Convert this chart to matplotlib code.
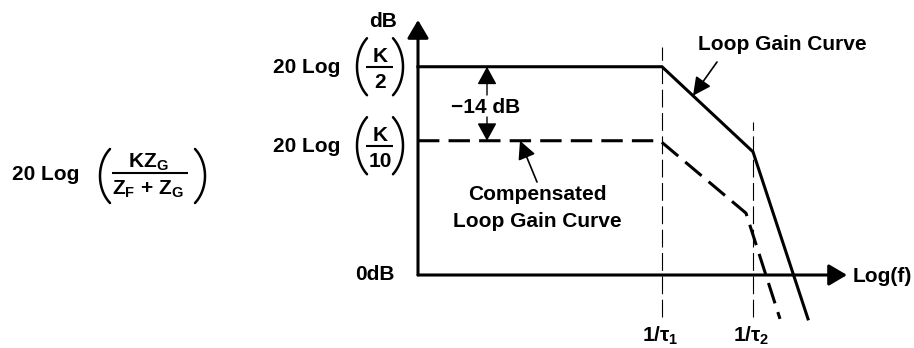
import numpy as np
import matplotlib.pyplot as plt

plt.rcParams['font.family'] = ['Liberation Sans', 'DejaVu Sans']
plt.rcParams['font.weight'] = 'bold'
plt.rcParams['font.size'] = 15
plt.rcParams['mathtext.default'] = 'regular'

# x = log frequency (decades from the origin), y = gain in dB
loop_logf = [0.0, 2.44, 3.35, 3.90]
loop_db = [39.4, 39.4, 23.3, -8.3]
comp_logf = [0.0, 2.42, 3.28, 3.62]
comp_db = [25.4, 25.4, 11.7, -8.3]
corner_logf = [2.44, 3.35]
corner_top_db = [43.1, 28.9]
corner_labels = ['1/τ$_1$', '1/τ$_2$']
level_db = [39.4, 25.4]
level_den = ['2', '10']

# pixel layout helpers (origin of the diagram at px 418, 275)
SX, SY = 100.0, 5.286


def P(px, py):
    return (px - 418) / SX, (275 - py) / SY


def paren(ax, outer_px, cy_px, hh_px, side, bulge=10):
    # big round bracket drawn as an elliptic arc
    span = np.radians(50)
    b = hh_px / np.sin(span)
    a = bulge / (1 - np.cos(span))
    t = np.linspace(-span, span, 40)
    if side == 'left':
        px = outer_px + a - a * np.cos(t)
    else:
        px = outer_px - a + a * np.cos(t)
    py = cy_px + b * np.sin(t)
    x, y = P(px, py)
    ax.plot(x, y, color='k', lw=1.8, solid_capstyle='round')


def frac_bar(ax, x0, x1, y):
    (a, b), (c, d) = P(x0, y), P(x1, y)
    ax.plot([a, c], [b, d], color='k', lw=1.5, solid_capstyle='butt')


def arrow(ax, tip, tail, lw=1.2, hw=0.55, hl=1.1):
    ax.annotate('', xy=tip, xytext=tail,
                arrowprops=dict(arrowstyle=f'-|>,head_width={hw},head_length={hl}',
                                lw=lw, color='k', mutation_scale=10,
                                shrinkA=0, shrinkB=0))


fig = plt.figure(figsize=(9.14, 3.48), dpi=100)
ax = fig.add_axes([0, 0, 1, 1])
ax.set_xlim(P(0, 0)[0], P(914, 0)[0])
ax.set_ylim(P(0, 348)[1], P(0, 0)[1])
ax.axis('off')

# axes with arrow heads
arrow(ax, (0, P(0, 20)[1]), (0, 0), lw=2.2, hw=0.65, hl=1.1)
arrow(ax, (P(847, 0)[0], 0), (0, 0), lw=2.2, hw=0.65, hl=1.1)

# corner frequency markers
for x, top, lab in zip(corner_logf, corner_top_db, corner_labels):
    ax.plot([x, x], [P(0, 317)[1], top], color='k', lw=0.8, dashes=(16, 5))
    ax.text(x - 0.2, P(0, 342)[1], lab, ha='left', va='baseline')

# gain curves
ax.plot(loop_logf, loop_db, color='k', lw=2.2, solid_joinstyle='miter')
ax.plot(comp_logf, comp_db, color='k', lw=2.2, dashes=(7, 3))

# axis labels
ax.text(*P(369, 27), 'dB', ha='left', va='baseline')
ax.text(*P(395, 280), '0dB', ha='right', va='baseline')
ax.text(*P(853, 282), 'Log(f)', ha='left', va='baseline')

# level labels 20 Log (K/n)
for lvl, den, shift in zip(level_db, level_den, [0, 5]):
    cy = 275 - lvl * SY + shift
    ax.text(*P(340, cy + 6), '20 Log', ha='right', va='baseline')
    ax.text(*P(380, cy - 5), 'K', ha='center', va='baseline')
    ax.text(*P(380, cy + 21), den, ha='center', va='baseline')
    frac_bar(ax, 366, 393, cy)
    paren(ax, 357, cy, 28.5, 'left')
    paren(ax, 403, cy, 28.5, 'right')

# -14 dB difference
xa = P(487, 0)[0]
arrow(ax, (xa, level_db[0]), (xa, P(0, 95)[1]), lw=1.0, hw=0.6, hl=1.1)
arrow(ax, (xa, level_db[1]), (xa, P(0, 117)[1]), lw=1.0, hw=0.6, hl=1.1)
ax.text(*P(486, 113), '\u221214 dB', ha='center', va='baseline')

# curve callouts
tip_x = P(520, 0)[0]
arrow(ax, (tip_x, np.interp(tip_x, comp_logf, comp_db)), P(537, 182))
ax.text(*P(537, 200), 'Compensated', ha='center', va='baseline')
ax.text(*P(537, 227), 'Loop Gain Curve', ha='center', va='baseline')

tip_x = P(693, 0)[0]
arrow(ax, (tip_x, np.interp(tip_x, loop_logf, loop_db)), P(717, 62))
ax.text(*P(698, 50), 'Loop Gain Curve', ha='left', va='baseline')

# transfer function on the left
ax.text(*P(12, 180), '20 Log', ha='left', va='baseline')
ax.text(*P(148, 168), 'KZ$_G$', ha='center', va='baseline')
ax.text(*P(148, 195), 'Z$_F$ + Z$_G$', ha='center', va='baseline')
frac_bar(ax, 112, 188, 173)
paren(ax, 100, 176, 27, 'left')
paren(ax, 205, 176, 27, 'right')

fig.savefig('out.png', dpi=100)
